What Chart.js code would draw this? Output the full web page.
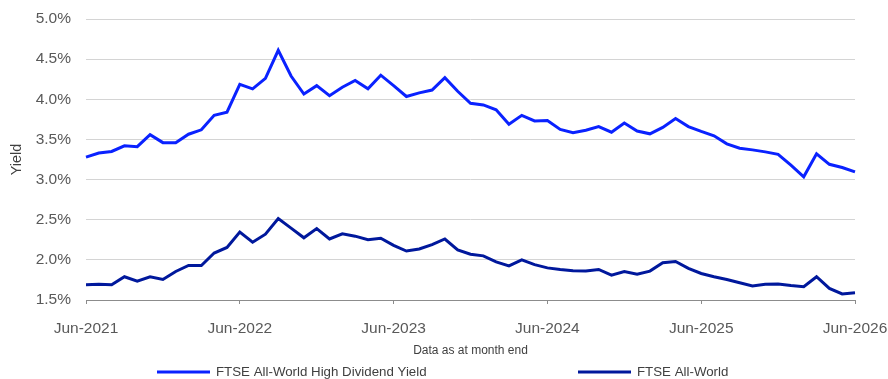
<!DOCTYPE html>
<html>
<head>
<meta charset="utf-8">
<script src="https://cdn.jsdelivr.net/npm/chart.js@4/dist/chart.umd.min.js"></script>
<style>
  html, body { margin: 0; padding: 0; background: #ffffff; }
  #wrap { width: 888px; height: 379px; position: relative; }
</style>
</head>
<body>
<div id="wrap"><canvas id="chart" width="888" height="379"></canvas></div>
<script>
// Month-end yields, Jun-2021 .. Jun-2026
const months = [
  'Jun-2021','Jul-2021','Aug-2021','Sep-2021','Oct-2021','Nov-2021','Dec-2021','Jan-2022','Feb-2022','Mar-2022','Apr-2022','May-2022',
  'Jun-2022','Jul-2022','Aug-2022','Sep-2022','Oct-2022','Nov-2022','Dec-2022','Jan-2023','Feb-2023','Mar-2023','Apr-2023','May-2023',
  'Jun-2023','Jul-2023','Aug-2023','Sep-2023','Oct-2023','Nov-2023','Dec-2023','Jan-2024','Feb-2024','Mar-2024','Apr-2024','May-2024',
  'Jun-2024','Jul-2024','Aug-2024','Sep-2024','Oct-2024','Nov-2024','Dec-2024','Jan-2025','Feb-2025','Mar-2025','Apr-2025','May-2025',
  'Jun-2025','Jul-2025','Aug-2025','Sep-2025','Oct-2025','Nov-2025','Dec-2025','Jan-2026','Feb-2026','Mar-2026','Apr-2026','May-2026',
  'Jun-2026'
];

const highDividendYield = [
  3.28, 3.33, 3.35, 3.42, 3.41, 3.56, 3.46, 3.46, 3.565, 3.62, 3.80, 3.84,
  4.185, 4.13, 4.26, 4.61, 4.29, 4.065, 4.17, 4.045, 4.15, 4.235, 4.13, 4.30,
  4.17, 4.035, 4.08, 4.115, 4.27, 4.10, 3.95, 3.93, 3.87, 3.69, 3.80, 3.73,
  3.735, 3.625, 3.585, 3.615, 3.66, 3.59, 3.705, 3.605, 3.57, 3.65, 3.76, 3.66,
  3.60, 3.545, 3.445, 3.39, 3.37, 3.345, 3.315, 3.18, 3.035, 3.32, 3.19, 3.15,
  3.095
];

const allWorldYield = [
  1.69, 1.695, 1.69, 1.79, 1.735, 1.79, 1.755, 1.855, 1.93, 1.93, 2.085, 2.155,
  2.345, 2.22, 2.32, 2.515, 2.395, 2.275, 2.39, 2.26, 2.325, 2.295, 2.25, 2.27,
  2.18, 2.11, 2.135, 2.19, 2.26, 2.125, 2.07, 2.05, 1.975, 1.925, 2.00, 1.94,
  1.90, 1.88, 1.865, 1.86, 1.88, 1.81, 1.855, 1.82, 1.86, 1.965, 1.98, 1.895,
  1.83, 1.79, 1.755, 1.715, 1.675, 1.695, 1.70, 1.68, 1.665, 1.79, 1.645, 1.575,
  1.59
];

const seriesNames = ['FTSE All-World High Dividend Yield', 'FTSE All-World'];
const seriesColors = ['#0A22FF', '#00189C'];

const FONT = 'Arial, "Liberation Sans", Helvetica, sans-serif';

// Legend drawn as a single row below the axis title
const bottomLegend = {
  id: 'bottomLegend',
  afterDraw(chart) {
    const ctx = chart.ctx;
    const y = 372;
    const starts = [157, 578];
    ctx.save();
    ctx.font = '13.3px ' + FONT;
    ctx.textBaseline = 'middle';
    chart.data.datasets.forEach((ds, i) => {
      const x0 = starts[i];
      ctx.strokeStyle = ds.borderColor;
      ctx.lineWidth = 3;
      ctx.beginPath();
      ctx.moveTo(x0, y);
      ctx.lineTo(x0 + 53, y);
      ctx.stroke();
      ctx.fillStyle = '#404040';
      ctx.fillText(ds.label, x0 + 59, y);
    });
    ctx.restore();
  }
};

new Chart(document.getElementById('chart'), {
  type: 'line',
  data: {
    labels: months,
    datasets: [
      {
        label: seriesNames[0],
        data: highDividendYield,
        borderColor: seriesColors[0],
        backgroundColor: seriesColors[0],
        borderWidth: 3,
        pointRadius: 0,
        tension: 0,
        fill: false
      },
      {
        label: seriesNames[1],
        data: allWorldYield,
        borderColor: seriesColors[1],
        backgroundColor: seriesColors[1],
        borderWidth: 3,
        pointRadius: 0,
        tension: 0,
        fill: false
      }
    ]
  },
  options: {
    responsive: false,
    animation: false,
    devicePixelRatio: 1,
    layout: { padding: { top: 19, right: 33, bottom: 21, left: 0 } },
    plugins: {
      legend: { display: false },
      tooltip: { enabled: false }
    },
    scales: {
      x: {
        type: 'category',
        offset: false,
        afterFit(scale) {
          scale.height = 58;
          scale.paddingLeft = 0;
          scale.paddingRight = 0;
        },
        border: { display: true, color: '#8c8c8c', width: 1 },
        grid: { display: true, drawOnChartArea: false, drawTicks: true, tickLength: 4, color: '#8c8c8c' },
        ticks: {
          autoSkip: false,
          maxRotation: 0,
          padding: 15,
          color: '#595959',
          font: { family: FONT, size: 15.5 },
          callback(value, index) {
            return index % 12 === 0 ? months[index] : null;
          }
        },
        title: {
          display: true,
          text: 'Data as at month end',
          color: '#404040',
          font: { family: FONT, size: 12 },
          padding: { top: 4, bottom: 0 }
        }
      },
      y: {
        min: 1.5,
        max: 5.0,
        afterFit(scale) {
          scale.width = 86;
          scale.paddingTop = 0;
          scale.paddingBottom = 0;
        },
        border: { display: false },
        grid: { color: '#d4d4d4', lineWidth: 1, drawTicks: false },
        ticks: {
          stepSize: 0.5,
          padding: 15,
          color: '#595959',
          font: { family: FONT, size: 15.5 },
          callback(value) { return value.toFixed(1) + '%'; }
        },
        title: {
          display: true,
          text: 'Yield',
          color: '#404040',
          font: { family: FONT, size: 14.5 },
          padding: { top: 8, bottom: 0 }
        }
      }
    }
  },
  plugins: [bottomLegend]
});
</script>
</body>
</html>
